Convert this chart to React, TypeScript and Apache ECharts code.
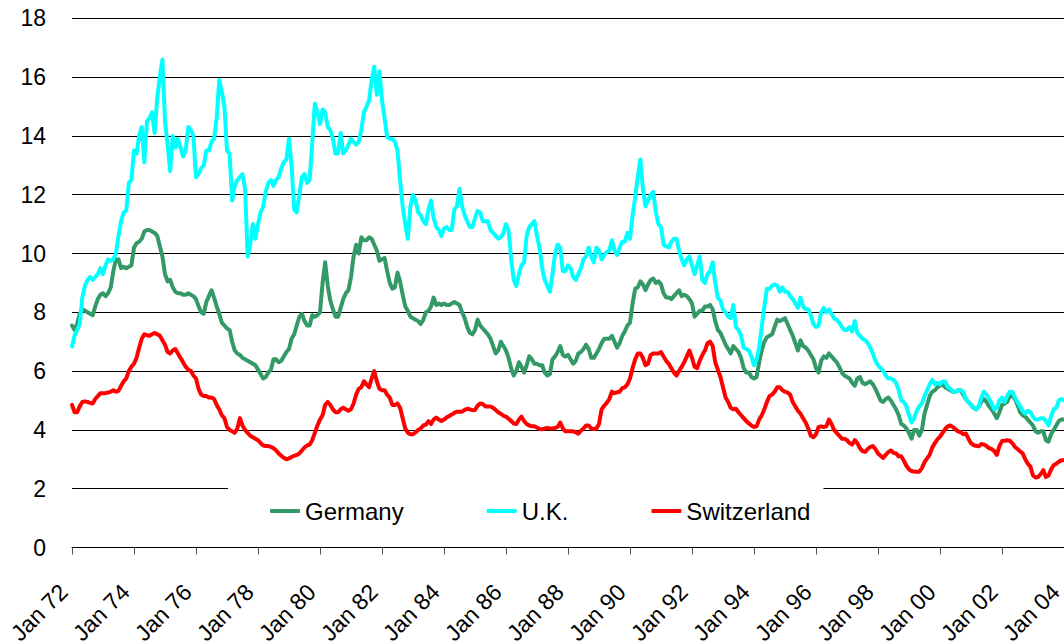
import React, { useEffect, useRef } from "react";
import * as echarts from "echarts";

// Monthly data, Jan 1972 .. Jan 2004 (one row per year, 12 months)
const germany: number[] = [
  7.55, 7.4, 7.6, 7.95, 8.1, 8.05, 8.0, 7.95, 7.9, 8.2, 8.45, 8.6,
  8.65, 8.55, 8.65, 8.85, 9.4, 9.8, 9.8, 9.5, 9.55, 9.5, 9.55, 9.6,
  10.2, 10.35, 10.4, 10.5, 10.75, 10.8, 10.8, 10.75, 10.7, 10.6, 10.25, 9.9,
  9.3, 9.05, 9.1, 8.85, 8.7, 8.65, 8.65, 8.6, 8.6, 8.65, 8.6, 8.55,
  8.45, 8.2, 8.0, 7.95, 8.35, 8.55, 8.75, 8.5, 8.2, 7.95, 7.65, 7.55,
  7.45, 7.4, 7.0, 6.7, 6.6, 6.55, 6.45, 6.4, 6.35, 6.3, 6.25, 6.2,
  6.05, 5.9, 5.75, 5.8, 5.95, 6.05, 6.4, 6.4, 6.3, 6.35, 6.5, 6.65,
  6.75, 7.1, 7.25, 7.55, 7.85, 7.95, 7.7, 7.55, 7.55, 7.9, 7.85, 7.9,
  8.0, 9.0, 9.7, 8.9, 8.4, 8.1, 7.85, 7.85, 8.15, 8.45, 8.65, 8.75,
  9.2, 9.9, 10.3, 10.0, 10.55, 10.45, 10.45, 10.55, 10.5, 10.3, 10.1, 9.75,
  9.8, 9.85, 9.4, 9.0, 8.8, 8.85, 9.35, 9.05, 8.6, 8.2, 8.05, 7.85,
  7.8, 7.75, 7.7, 7.6, 7.75, 8.0, 8.05, 8.2, 8.5, 8.25, 8.3, 8.25,
  8.3, 8.25, 8.25, 8.3, 8.35, 8.3, 8.25, 8.0, 7.8, 7.5, 7.3, 7.25,
  7.4, 7.75, 7.55, 7.45, 7.35, 7.25, 7.1, 6.85, 6.6, 6.7, 7.0, 6.85,
  6.7, 6.45, 6.1, 5.85, 6.0, 6.3, 6.15, 5.95, 6.2, 6.5, 6.4, 6.25,
  6.25, 6.2, 6.2, 5.95, 5.85, 5.9, 6.4, 6.5, 6.65, 6.85, 6.55, 6.5,
  6.55, 6.4, 6.25, 6.35, 6.6, 6.65, 6.75, 6.9, 6.75, 6.45, 6.45, 6.6,
  6.75, 6.95, 7.1, 7.1, 7.1, 7.2, 7.0, 6.8, 6.95, 7.2, 7.35, 7.55,
  7.65, 8.3, 8.8, 8.85, 9.05, 8.95, 8.75, 8.95, 9.1, 9.15, 9.0, 9.05,
  8.95, 8.65, 8.5, 8.5, 8.45, 8.55, 8.65, 8.75, 8.55, 8.6, 8.55, 8.45,
  8.3, 7.85, 7.95, 8.05, 8.05, 8.2, 8.2, 8.25, 8.1, 7.7, 7.4, 7.3,
  7.1, 6.9, 6.75, 6.6, 6.85, 6.75, 6.65, 6.45, 6.1, 5.95, 5.95, 5.8,
  5.75, 5.8, 6.3, 6.7, 7.0, 7.15, 7.2, 7.25, 7.5, 7.75, 7.7, 7.75,
  7.8, 7.6, 7.4, 7.2, 6.95, 6.7, 7.05, 6.85, 6.8, 6.7, 6.55, 6.4,
  6.1, 5.95, 6.35, 6.5, 6.45, 6.6, 6.5, 6.4, 6.3, 6.15, 5.95, 5.85,
  5.8, 5.75, 5.6, 5.5, 5.75, 5.8, 5.6, 5.55, 5.6, 5.65, 5.55, 5.4,
  5.2, 5.0, 4.95, 5.05, 5.1, 5.0, 4.85, 4.7, 4.5, 4.2, 4.15, 4.05,
  3.9, 3.7, 4.0, 4.0, 3.8, 4.0, 4.55, 4.85, 5.15, 5.3, 5.35, 5.45,
  5.5, 5.55, 5.45, 5.4, 5.35, 5.3, 5.3, 5.35, 5.35, 5.2, 5.05, 4.95,
  4.85, 4.75, 4.7, 4.8, 4.95, 5.05, 4.95, 4.8, 4.7, 4.55, 4.4, 4.6,
  4.85, 4.9, 4.95, 5.15, 5.15, 5.05, 4.85, 4.6, 4.5, 4.45, 4.35, 4.25,
  4.15, 3.95, 3.9, 3.95, 3.95, 3.65, 3.6, 3.85, 4.0, 4.15, 4.3, 4.35,
  4.35,
];

const uk: number[] = [
  6.84, 7.2, 7.4, 7.6, 8.5, 8.9, 9.1, 9.2, 9.1, 9.2, 9.3, 9.5,
  9.3, 9.6, 9.8, 9.75, 9.8, 10.0, 10.6, 11.1, 11.4, 11.45, 12.4, 12.5,
  13.5, 13.4, 14.0, 14.3, 13.1, 14.5, 14.6, 14.8, 14.1, 15.3, 16.0, 16.6,
  14.5, 13.7, 12.8, 14.0, 13.6, 13.9, 13.6, 13.3, 13.5, 14.3, 14.2, 14.0,
  12.6, 12.7, 12.9, 13.0, 13.5, 13.5, 13.8, 13.9, 14.6, 15.9, 15.5, 15.0,
  13.5, 13.4, 11.8, 12.3, 12.5, 12.6, 12.7, 12.2, 9.9, 10.3, 11.0, 10.5,
  11.0, 11.4, 11.6, 12.1, 12.4, 12.5, 12.3, 12.5, 12.6, 12.9, 13.1, 13.2,
  13.9, 13.0, 11.5, 11.4, 12.0, 12.6, 12.7, 12.4, 12.5, 13.8, 15.1, 14.8,
  14.4, 14.9, 14.8, 14.3, 14.2, 13.9, 13.4, 13.4, 14.1, 13.4, 13.5, 13.7,
  13.9, 13.8, 13.7, 13.8, 14.2, 14.8, 15.0, 15.2, 15.9, 16.35, 15.4, 16.2,
  15.2, 14.6, 13.95, 13.9, 13.9, 13.8, 13.5, 12.5, 11.6, 11.0, 10.5, 11.6,
  12.0, 11.8, 11.4, 11.3, 11.1, 11.0, 11.5, 11.8, 11.2, 10.9, 10.8, 10.6,
  10.85, 10.9, 10.8, 10.8, 11.5, 11.6, 12.2, 11.6, 11.3, 11.1, 10.9, 10.9,
  11.2, 11.45, 11.4, 11.1, 11.1, 11.1, 10.8, 10.7, 10.6, 10.5, 10.55, 10.7,
  11.0, 10.8, 9.8, 9.1, 8.9, 9.3, 9.6, 9.7, 10.6, 10.9, 11.0, 11.1,
  10.6, 10.2, 9.5, 9.1, 8.9, 8.7, 9.3, 10.0, 10.3, 10.2, 9.4, 9.4,
  9.6, 9.5, 9.2, 9.1, 9.3, 9.5, 9.8, 9.9, 10.2, 9.9, 9.7, 10.2,
  10.1, 9.8, 9.95, 10.05, 10.1, 10.45, 10.1, 9.95, 10.2, 10.4, 10.4, 10.7,
  10.5, 11.3, 11.9, 12.6, 13.2, 12.2, 11.6, 11.8, 12.0, 12.1, 11.4, 11.0,
  10.9, 10.3, 10.25, 10.2, 10.4, 10.5, 10.5, 10.1, 9.8, 9.6, 9.8, 9.9,
  9.6, 9.3, 9.6, 9.9, 9.1, 9.0, 9.3, 9.4, 9.7, 9.0, 8.5, 8.4,
  8.1, 8.0, 7.85, 7.8, 8.25, 7.5, 7.4, 7.2, 6.8, 6.75, 6.7, 6.5,
  6.2, 6.4, 6.8, 7.5, 8.2, 8.8, 8.8, 8.9, 8.95, 8.9, 8.7, 8.85,
  8.7, 8.7, 8.55, 8.45, 8.3, 8.15, 8.5, 8.2, 8.1, 8.1, 7.9, 7.6,
  7.5, 7.55, 8.0, 8.15, 8.0, 8.1, 7.95, 7.8, 7.75, 7.65, 7.5, 7.4,
  7.4, 7.5, 7.35, 7.7, 7.3, 7.2, 7.1, 7.05, 6.95, 6.8, 6.6, 6.35,
  6.2, 6.1, 6.0, 5.85, 5.75, 5.75, 5.7, 5.6, 5.35, 5.0, 4.95, 4.8,
  4.5, 4.25, 4.4, 4.65, 4.8, 4.9, 5.15, 5.35, 5.55, 5.7, 5.55, 5.6,
  5.55, 5.65, 5.65, 5.45, 5.4, 5.3, 5.3, 5.35, 5.35, 5.3, 5.05, 4.95,
  4.85, 4.75, 4.7, 4.8, 5.1, 5.3, 5.2, 5.05, 4.9, 4.7, 4.75, 5.0,
  5.1, 4.95, 5.15, 5.3, 5.3, 5.1, 4.95, 4.8, 4.65, 4.55, 4.65, 4.6,
  4.45, 4.35, 4.35, 4.4, 4.4, 4.3, 4.15, 4.45, 4.7, 4.75, 5.0, 5.05,
  5.0,
];

const switzerland: number[] = [
  4.85, 4.6, 4.6, 4.8, 4.95, 4.97, 4.95, 4.92, 4.9, 5.05, 5.15, 5.25,
  5.25, 5.25, 5.27, 5.3, 5.35, 5.3, 5.33, 5.5, 5.65, 5.75, 6.0, 6.15,
  6.25, 6.45, 6.8, 7.1, 7.25, 7.22, 7.2, 7.25, 7.3, 7.25, 7.2, 7.05,
  6.9, 6.65, 6.6, 6.7, 6.75, 6.6, 6.45, 6.3, 6.15, 6.05, 6.0, 5.85,
  5.75, 5.4, 5.2, 5.15, 5.15, 5.1, 5.1, 5.05, 4.85, 4.7, 4.5, 4.4,
  4.1, 4.0, 3.95, 3.9, 4.05, 4.4, 4.15, 4.0, 3.9, 3.8, 3.75, 3.7,
  3.65, 3.55, 3.47, 3.45, 3.45, 3.42, 3.38, 3.3, 3.2, 3.12, 3.05, 3.0,
  3.03, 3.08, 3.12, 3.15, 3.2, 3.3, 3.4, 3.47, 3.5, 3.65, 3.9, 4.15,
  4.35, 4.5, 4.85, 4.95, 4.85, 4.7, 4.6, 4.6, 4.7, 4.75, 4.7, 4.65,
  4.7, 4.9, 5.2, 5.4, 5.45, 5.65, 5.55, 5.45, 5.75, 6.0, 5.65, 5.4,
  5.35, 5.35, 5.2, 5.1, 4.85, 4.85, 4.9, 4.75, 4.4, 4.05, 3.9, 3.85,
  3.85, 3.92, 4.0, 4.05, 4.15, 4.18, 4.3, 4.2, 4.35, 4.42, 4.35, 4.3,
  4.35, 4.42, 4.47, 4.52, 4.58, 4.62, 4.62, 4.62, 4.68, 4.72, 4.7, 4.67,
  4.68, 4.82, 4.9, 4.88, 4.8, 4.8, 4.8, 4.75, 4.68, 4.6, 4.55, 4.48,
  4.45, 4.38, 4.3, 4.22, 4.2, 4.35, 4.45, 4.3, 4.2, 4.15, 4.12, 4.12,
  4.08, 4.03, 4.02, 4.05, 4.07, 4.05, 4.05, 4.07, 4.1, 4.25, 4.05, 3.95,
  3.95, 3.95, 3.95, 3.92, 3.87, 3.97, 4.05, 4.15, 4.15, 4.05, 4.03, 4.05,
  4.2, 4.7, 4.82, 4.92, 5.05, 5.3, 5.25, 5.28, 5.3, 5.42, 5.45, 5.55,
  5.75, 6.1, 6.4, 6.6, 6.6, 6.45, 6.2, 6.25, 6.55, 6.6, 6.6, 6.6,
  6.65, 6.5, 6.35, 6.25, 6.1, 5.95, 5.85, 6.0, 6.15, 6.3, 6.5, 6.7,
  6.45, 6.15, 6.1, 6.35, 6.55, 6.7, 6.95, 7.0, 6.85, 6.3, 6.05, 5.8,
  5.45, 5.1, 4.95, 4.75, 4.7, 4.72, 4.6, 4.5, 4.4, 4.3, 4.22, 4.15,
  4.1, 4.12, 4.35, 4.5, 4.7, 4.95, 5.15, 5.2, 5.3, 5.45, 5.45, 5.35,
  5.3, 5.27, 5.2, 4.95, 4.8, 4.65, 4.55, 4.4, 4.25, 4.05, 3.8, 3.75,
  3.85, 4.1, 4.12, 4.1, 4.12, 4.35, 4.2, 4.0, 3.9, 3.8, 3.7, 3.7,
  3.65, 3.55, 3.5, 3.65, 3.55, 3.38, 3.28, 3.25, 3.35, 3.42, 3.45, 3.35,
  3.2, 3.12, 3.05, 3.15, 3.25, 3.3, 3.22, 3.2, 3.1, 3.1, 2.95, 2.78,
  2.66, 2.6, 2.58, 2.58, 2.58, 2.7, 2.9, 3.03, 3.15, 3.4, 3.55, 3.68,
  3.77, 3.9, 4.03, 4.12, 4.15, 4.1, 4.02, 3.95, 3.92, 3.85, 3.88, 3.7,
  3.55, 3.48, 3.46, 3.44, 3.52, 3.5, 3.45, 3.38, 3.35, 3.28, 3.15, 3.45,
  3.62, 3.63, 3.65, 3.63, 3.55, 3.42, 3.35, 3.27, 3.2, 3.0, 2.85, 2.75,
  2.45, 2.38, 2.4, 2.5, 2.63, 2.4, 2.45, 2.65, 2.8, 2.85, 2.92, 2.97,
  2.97,
];

const monthNames = ["Jan", "Feb", "Mar", "Apr", "May", "Jun", "Jul", "Aug", "Sep", "Oct", "Nov", "Dec"];
const startYear = 1972;
const categories: string[] = germany.map((_, i) => {
  const y = (startYear + Math.floor(i / 12)) % 100;
  return `${monthNames[i % 12]} ${String(y).padStart(2, "0")}`;
});

const seriesNames = ["Germany", "U.K.", "Switzerland"];
const seriesColors = ["#339966", "#00FFFF", "#FF0000"];
const yTicks = { min: 0, max: 18, interval: 2 };

const FONT = "'Liberation Sans', Arial, Helvetica, sans-serif";

export default function App() {
  const ref = useRef<HTMLDivElement>(null);
  useEffect(() => {
    if (!ref.current) return;
    const chart = echarts.init(ref.current, undefined, { renderer: "svg" });
    const every24 = (idx: number) => idx % 24 === 0;
    const dataSets = [germany, uk, switzerland];
    chart.setOption({
      animation: false,
      backgroundColor: "#ffffff",
      grid: {
        left: 72,
        right: 0,
        top: 18.3,
        bottom: 93.5,
        containLabel: false,
        outerBoundsMode: "none",
      },
      legend: {
        data: seriesNames,
        left: 228,
        top: 483,
        orient: "horizontal",
        padding: [14, 13, 14, 42],
        backgroundColor: "#ffffff",
        itemWidth: 30,
        itemHeight: 4,
        itemGap: 83,
        icon: "roundRect",
        textStyle: { fontSize: 24, color: "#000", fontFamily: FONT, lineHeight: 28 },
        z: 10,
      },
      xAxis: {
        type: "category",
        boundaryGap: false,
        data: categories,
        axisLine: { show: true, lineStyle: { color: "#000", width: 1 } },
        axisTick: { show: true, interval: every24, length: 7, lineStyle: { color: "#555" } },
        axisLabel: {
          interval: every24,
          rotate: 45,
          margin: 32,
          padding: [0, 12, 0, 0],
          fontSize: 23,
          color: "#000",
          fontFamily: FONT,
          showMaxLabel: true,
          showMinLabel: true,
        },
        splitLine: { show: false },
      },
      yAxis: {
        type: "value",
        min: yTicks.min,
        max: yTicks.max,
        interval: yTicks.interval,
        axisLine: { show: false },
        axisTick: { show: false },
        axisLabel: { fontSize: 23, color: "#000", fontFamily: FONT, margin: 26 },
        splitLine: { show: true, lineStyle: { color: "#000", width: 1 } },
      },
      series: seriesNames.map((name, i) => ({
        name,
        type: "line",
        data: dataSets[i],
        color: seriesColors[i],
        showSymbol: false,
        symbol: "none",
        smooth: false,
        lineStyle: { width: 4, color: seriesColors[i], cap: "round", join: "round" },
        emphasis: { disabled: true },
      })),
    });
    return () => chart.dispose();
  }, []);
  return (
    <div
      ref={ref}
      style={{ position: "absolute", left: 0, top: 0, width: 1064, height: 641, background: "#fff" }}
    />
  );
}
